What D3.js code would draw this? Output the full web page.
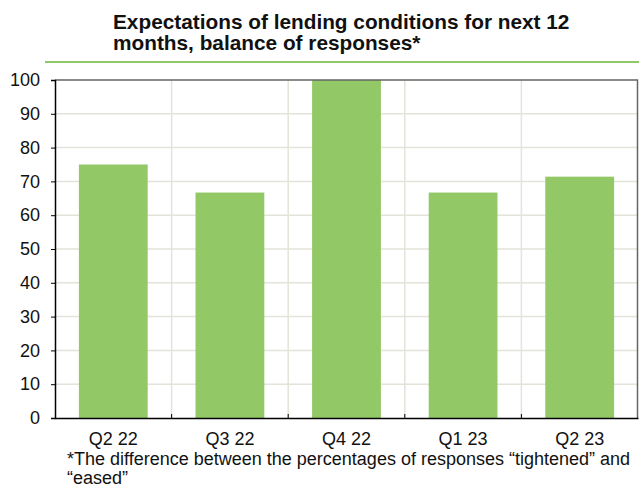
<!DOCTYPE html>
<html>
<head>
<meta charset="utf-8">
<script src="https://cdn.jsdelivr.net/npm/d3@7"></script>
<style>
  body { margin: 0; background: #fff; }
  text { font-family: "Liberation Sans", Arial, sans-serif; }
</style>
</head>
<body>
<svg id="chart"></svg>
<script>
// Data
const categories = ["Q2 22", "Q3 22", "Q4 22", "Q1 23", "Q2 23"];
const values = [75, 66.7, 100, 66.7, 71.4];
const yTicks = [0, 10, 20, 30, 40, 50, 60, 70, 80, 90, 100];

// Dimensions
const width = 639;
const height = 490;
const margin = { top: 80, right: 1, bottom: 72, left: 55 };

const svg = d3.select("#chart").attr("width", width).attr("height", height);

const x = d3
  .scaleBand()
  .domain(categories)
  .range([margin.left, width - margin.right])
  .paddingInner(0.41)
  .paddingOuter(0.205);

const xBands = d3
  .scaleBand()
  .domain(categories)
  .range([margin.left, width - margin.right]);

const y = d3
  .scaleLinear()
  .domain([0, 100])
  .range([height - margin.bottom, margin.top]);

// Title
const title = svg
  .append("text")
  .attr("x", 113)
  .attr("y", 28.5)
  .style("font-size", "20.8px")
  .style("font-weight", "bold")
  .attr("fill", "#111");
title.append("tspan").attr("x", 113).text("Expectations of lending conditions for next 12");
title.append("tspan").attr("x", 113).attr("dy", 21).text("months, balance of responses*");

svg
  .append("line")
  .attr("x1", 45)
  .attr("x2", width)
  .attr("y1", 62)
  .attr("y2", 62)
  .attr("stroke", "#92c865")
  .attr("stroke-width", 2);

// Grid
svg
  .append("g")
  .selectAll("line")
  .data(yTicks.slice(1, -1))
  .enter()
  .append("line")
  .attr("x1", margin.left)
  .attr("x2", width - margin.right)
  .attr("y1", (d) => y(d))
  .attr("y2", (d) => y(d))
  .attr("stroke", "#e3e3da")
  .attr("stroke-width", 1.5);

svg
  .append("g")
  .selectAll("line")
  .data(categories.slice(1))
  .enter()
  .append("line")
  .attr("x1", (d) => xBands(d))
  .attr("x2", (d) => xBands(d))
  .attr("y1", margin.top)
  .attr("y2", height - margin.bottom)
  .attr("stroke", "#e3e3da")
  .attr("stroke-width", 1.5);

// Bars
svg
  .append("g")
  .selectAll("rect")
  .data(values)
  .enter()
  .append("rect")
  .attr("x", (d, i) => x(categories[i]))
  .attr("y", (d) => y(d))
  .attr("width", x.bandwidth())
  .attr("height", (d) => y(0) - y(d))
  .attr("fill", "#92c865");

// Frame (top/right)
svg
  .append("path")
  .attr(
    "d",
    `M${margin.left},${margin.top}H${width - margin.right - 0.5}V${height - margin.bottom}`
  )
  .attr("fill", "none")
  .attr("stroke", "#666")
  .attr("stroke-width", 1.5);

// Y axis
const yAxis = svg
  .append("g")
  .attr("transform", `translate(${margin.left},0)`)
  .call(d3.axisLeft(y).tickValues(yTicks).tickSize(4).tickPadding(11));
yAxis.select(".domain").attr("stroke", "#000").attr("stroke-width", 1.5);
yAxis.selectAll(".tick line").attr("stroke", "#000");
yAxis
  .selectAll(".tick text")
  .style("font-size", "18px")
  .style("font-family", "Liberation Sans, Arial, sans-serif")
  .attr("fill", "#111");

// X axis
const xAxis = svg
  .append("g")
  .attr("transform", `translate(0,${height - margin.bottom})`)
  .call(d3.axisBottom(xBands).tickSize(0).tickPadding(14));
xAxis.select(".domain").attr("stroke", "#000").attr("stroke-width", 1.5);
xAxis
  .selectAll(".tick text")
  .style("font-size", "18px")
  .style("font-family", "Liberation Sans, Arial, sans-serif")
  .attr("fill", "#111");

// category boundary ticks (inside)
svg
  .append("g")
  .selectAll("line")
  .data(categories.slice(1))
  .enter()
  .append("line")
  .attr("x1", (d) => xBands(d))
  .attr("x2", (d) => xBands(d))
  .attr("y1", height - margin.bottom)
  .attr("y2", height - margin.bottom - 4)
  .attr("stroke", "#000");

// Footnote
const note = svg
  .append("text")
  .attr("x", 67)
  .attr("y", 465)
  .style("font-size", "18px")
  .attr("fill", "#111");
note
  .append("tspan")
  .attr("x", 67)
  .text("*The difference between the percentages of responses \u201ctightened\u201d and");
note.append("tspan").attr("x", 67).attr("dy", 19).text("\u201ceased\u201d");
</script>
</body>
</html>
